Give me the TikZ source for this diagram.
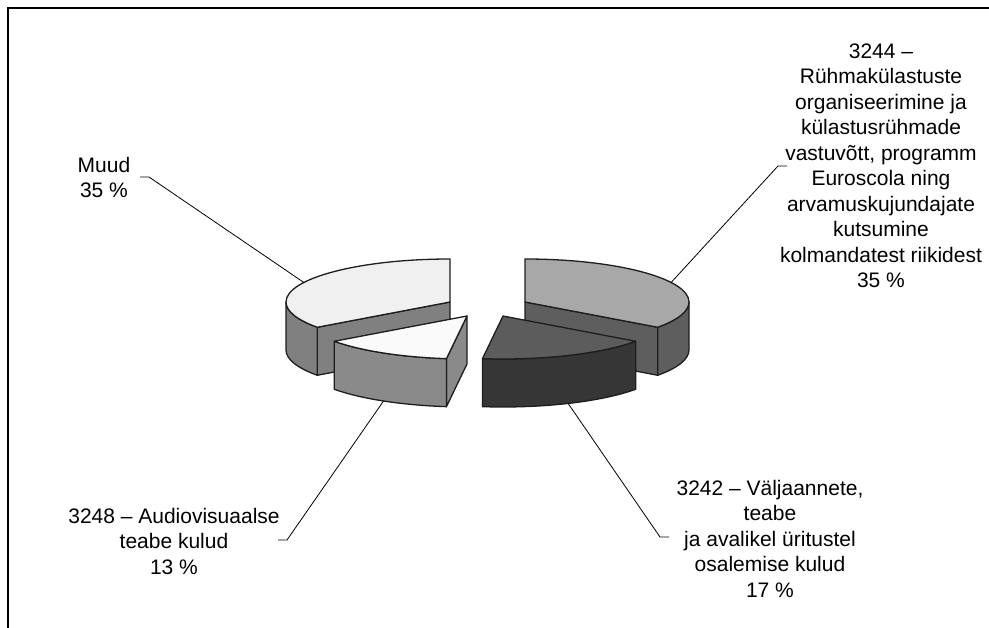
\documentclass[tikz,border=0pt]{standalone}
\usepackage{fontspec}
\setmainfont{Liberation Sans}
\definecolor{muudtop}{HTML}{F0F0F0}
\definecolor{muudside}{HTML}{808080}
\definecolor{avtop}{HTML}{FAFAFA}
\definecolor{avside}{HTML}{8A8A8A}
\definecolor{rtop}{HTML}{A8A8A8}
\definecolor{rside}{HTML}{5E5E5E}
\definecolor{dtop}{HTML}{5C5C5C}
\definecolor{dside}{HTML}{363636}
\definecolor{edge}{HTML}{1E1E1E}
\begin{document}
\begin{tikzpicture}[x=1pt,y=1pt,
  er/.style={x radius=164, y radius=43},
  slice/.style={draw=edge, line width=1.3pt, line join=round},
  leader/.style={draw=black, line width=0.8pt},
  lbl/.style={align=center, font=\fontsize{21}{25.5}\selectfont, inner sep=0pt}]
\useasboundingbox (0,0) rectangle (989,-628);
% frame
\draw[line width=1.2pt] (990,-8) -- (8,-8) -- (8,-629);

% ---- Muud (back left)
\filldraw[slice, fill=muudside] (450,-302) -- ([shift={(450,-302)}]216:164 and 43) -- ++(0,-48) -- (450,-350) -- cycle;
\filldraw[slice, fill=muudside] (286,-302) arc[start angle=180,end angle=216,er] -- ++(0,-48) arc[start angle=216,end angle=180,er] -- cycle;
\filldraw[slice, fill=muudtop] (450,-302) -- (450,-259) arc[start angle=90,end angle=216,er] -- cycle;

% ---- 3244 (back right)
\filldraw[slice, fill=rside] (525,-302) -- ([shift={(525,-302)}]-36:164 and 43) -- ++(0,-48) -- (525,-350) -- cycle;
\filldraw[slice, fill=rside] ([shift={(525,-302)}]-36:164 and 43) arc[start angle=-36,end angle=0,er] -- ++(0,-48) arc[start angle=0,end angle=-36,er] -- cycle;
\filldraw[slice, fill=rtop] (525,-302) -- (525,-259) arc[start angle=90,end angle=-36,er] -- cycle;

% ---- 3248 (front left)
\filldraw[slice, fill=avside] (467,-316) -- ([shift={(467,-316)}]262.8:164 and 43) -- ++(0,-48) -- (467,-364) -- cycle;
\filldraw[slice, fill=avside] ([shift={(467,-316)}]216:164 and 43) arc[start angle=216,end angle=262.8,er] -- ++(0,-48) arc[start angle=262.8,end angle=216,er] -- cycle;
\filldraw[slice, fill=avtop] (467,-316) -- ([shift={(467,-316)}]216:164 and 43) arc[start angle=216,end angle=262.8,er] -- cycle;

% ---- 3242 (front right)
\filldraw[slice, fill=dside] ([shift={(503,-316)}]-97.2:164 and 43) arc[start angle=-97.2,end angle=-36,er] -- ++(0,-48) arc[start angle=-36,end angle=-97.2,er] -- cycle;
\filldraw[slice, fill=dtop] (503,-316) -- ([shift={(503,-316)}]-97.2:164 and 43) arc[start angle=-97.2,end angle=-36,er] -- cycle;

% ---- labels (anchor base = baseline of last line)
\node[lbl, anchor=base] (muud) at (104,-198) {Muud\\35 \%};
\node[lbl, anchor=base] (l3244) at (881,-288) {3244 –\\Rühmakülastuste\\organiseerimine ja\\külastusrühmade\\vastuvõtt, programm\\Euroscola ning\\arvamuskujundajate\\kutsumine\\kolmandatest riikidest\\35 \%};
\node[lbl, anchor=base] (l3242) at (770,-597) {3242 – Väljaannete,\\teabe\\ja avalikel üritustel\\osalemise kulud\\17 \%};
\node[lbl, anchor=base] (l3248) at (174,-574) {3248 – Audiovisuaalse\\teabe kulud\\13 \%};

% ---- leader lines
\coordinate (muudrim) at ([shift={(450,-302)}]153:164 and 43);
\coordinate (muudbend) at (149,-177);
\coordinate (muudend) at (140,-177);
\draw[leader] (muudrim) -- (muudbend) -- (muudend);

\coordinate (rrim) at ([shift={(525,-302)}]27:164 and 43);
\coordinate (rbend) at (778,-166);
\coordinate (rend) at (787,-166);
\draw[leader] (rrim) -- (rbend) -- (rend);

\coordinate (drim) at ([shift={(503,-364)}]-66.6:164 and 43);
\coordinate (dbend) at (660,-537);
\coordinate (dend) at (669,-537);
\draw[leader] (drim) -- (dbend) -- (dend);

\coordinate (avrim) at ([shift={(467,-364)}]239.4:164 and 43);
\coordinate (avbend) at (287,-540);
\coordinate (avend) at (278,-540);
\draw[leader] (avrim) -- (avbend) -- (avend);
\end{tikzpicture}
\end{document}
